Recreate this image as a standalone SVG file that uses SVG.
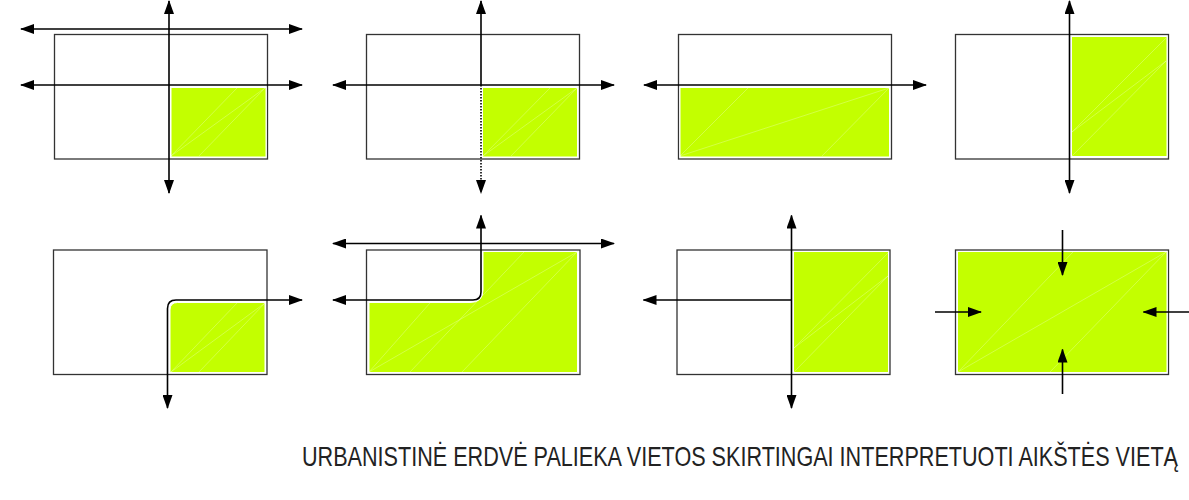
<svg xmlns="http://www.w3.org/2000/svg" width="1189" height="500" viewBox="0 0 1189 500">
<defs>
<marker id="ah" viewBox="0 0 14 10" refX="13" refY="5" markerWidth="14" markerHeight="10" orient="auto-start-reverse" markerUnits="userSpaceOnUse">
<path d="M0,0 L14,5 L0,10 z" fill="#000"/>
</marker>
<style>
.frame{fill:#fff;stroke:#333;stroke-width:1.3}
.green{fill:#c3ff00;stroke:#fff;stroke-width:1}
.diag{stroke:#fff;stroke-width:0.6;opacity:0.45;fill:none}
.ln{stroke:#000;stroke-width:1.6;fill:none}
.dbl{marker-start:url(#ah);marker-end:url(#ah)}
.one{marker-end:url(#ah)}
.dot{stroke:#000;stroke-width:1.6;stroke-dasharray:1.5 1.5;fill:none}
.caption{font-family:"Liberation Sans",Arial,sans-serif;font-size:27px;fill:#222}
</style>
</defs>
<rect width="1189" height="500" fill="#fff"/>

<g id="panel1">
<rect class="frame" x="54.5" y="34.5" width="213" height="124.5"/>
<rect class="green" x="171" y="87.5" width="95" height="69.5"/>
<path class="diag" d="M171,156 L265,88 M171,156 L237,88 M199,156 L265,88"/>
</g>
<g id="panel2">
<rect class="frame" x="366.5" y="34.5" width="213" height="124.5"/>
<rect class="green" x="482.5" y="87.5" width="95" height="69.5"/>
<path class="diag" d="M483,156 L577,88 M483,156 L550,88 M511,156 L577,88"/>
</g>
<g id="panel3">
<rect class="frame" x="678.5" y="34.5" width="213" height="124.5"/>
<rect class="green" x="680" y="87.5" width="209.5" height="69.5"/>
<path class="diag" d="M680,156 L889,88 M680,156 L748,88 M822,156 L889,88"/>
</g>
<g id="panel4">
<rect class="frame" x="955.5" y="34.5" width="213" height="124.5"/>
<rect class="green" x="1071.5" y="36.5" width="95.5" height="120"/>
<path class="diag" d="M1072,132 L1166,38 M1072,156 L1166,61 M1072,132 L1166,61"/>
</g>
<g id="panel5">
<rect class="frame" x="53.5" y="250" width="213.5" height="124.5"/>
<path class="green" d="M170,372.5 L170,310 Q170,302.5 177.5,302.5 L265,302.5 L265,372.5 Z"/>
<path class="diag" d="M171,372 L265,303 M171,372 L237,303 M199,372 L265,303"/>
</g>
<g id="panel6">
<rect class="frame" x="366.5" y="250" width="213.5" height="124.5"/>
<path class="green" d="M369,372.5 L369,302.5 L470,302.5 Q483,302.5 483,290 L483,251.5 L577.5,251.5 L577.5,372.5 Z"/>
<path class="diag" d="M369,372 L577,252 M369,372 L430,303 M462,372 L577,252 M410,372 L524,252"/>
</g>
<g id="panel7">
<rect class="frame" x="677" y="250" width="213" height="124.5"/>
<rect class="green" x="793.5" y="251.5" width="95" height="121"/>
<path class="diag" d="M794,348 L888,253 M794,372 L888,276 M794,348 L888,276"/>
</g>
<g id="panel8">
<rect class="frame" x="955.5" y="250" width="213" height="124.5"/>
<rect class="green" x="957.5" y="251.5" width="209.5" height="121"/>
<path class="diag" d="M958,372 L1166,252 M958,372 L1073,252 M1050,372 L1166,252"/>
</g>

<g id="connectors">
<line class="ln dbl" x1="21" y1="29" x2="302" y2="29"/>
<line class="ln dbl" x1="21" y1="85" x2="302" y2="85"/>
<line class="ln dbl" x1="169" y1="1" x2="169" y2="193"/>

<line class="ln dbl" x1="333" y1="85" x2="614" y2="85"/>
<line class="ln" x1="481" y1="85" x2="481" y2="1" style="marker-end:url(#ah)"/>
<line class="dot" x1="481" y1="85" x2="481" y2="193" style="marker-end:url(#ah)"/>

<line class="ln dbl" x1="644" y1="85" x2="926" y2="85"/>

<line class="ln dbl" x1="1069.5" y1="1" x2="1069.5" y2="193"/>

<path class="ln dbl" d="M302,300 L176,300 Q167.5,300 167.5,308.5 L167.5,408"/>

<line class="ln dbl" x1="333" y1="243.5" x2="614" y2="243.5"/>
<path class="ln dbl" d="M481,215.5 L481,292 Q481,300 473,300 L333,300"/>

<line class="ln dbl" x1="791.5" y1="215.5" x2="791.5" y2="408"/>
<line class="ln one" x1="791.5" y1="300" x2="643.5" y2="300"/>

<line class="ln one" x1="1062.5" y1="230" x2="1062.5" y2="275"/>
<line class="ln one" x1="1062.5" y1="394" x2="1062.5" y2="349.5"/>
<line class="ln one" x1="935" y1="312" x2="981" y2="312"/>
<line class="ln one" x1="1189" y1="312" x2="1143.5" y2="312"/>
</g>

<text class="caption" transform="translate(302,466) scale(0.8,1)" x="0" y="0" textLength="1095" lengthAdjust="spacingAndGlyphs">URBANISTINĖ ERDVĖ PALIEKA VIETOS SKIRTINGAI INTERPRETUOTI AIKŠTĖS VIETĄ</text>
</svg>
